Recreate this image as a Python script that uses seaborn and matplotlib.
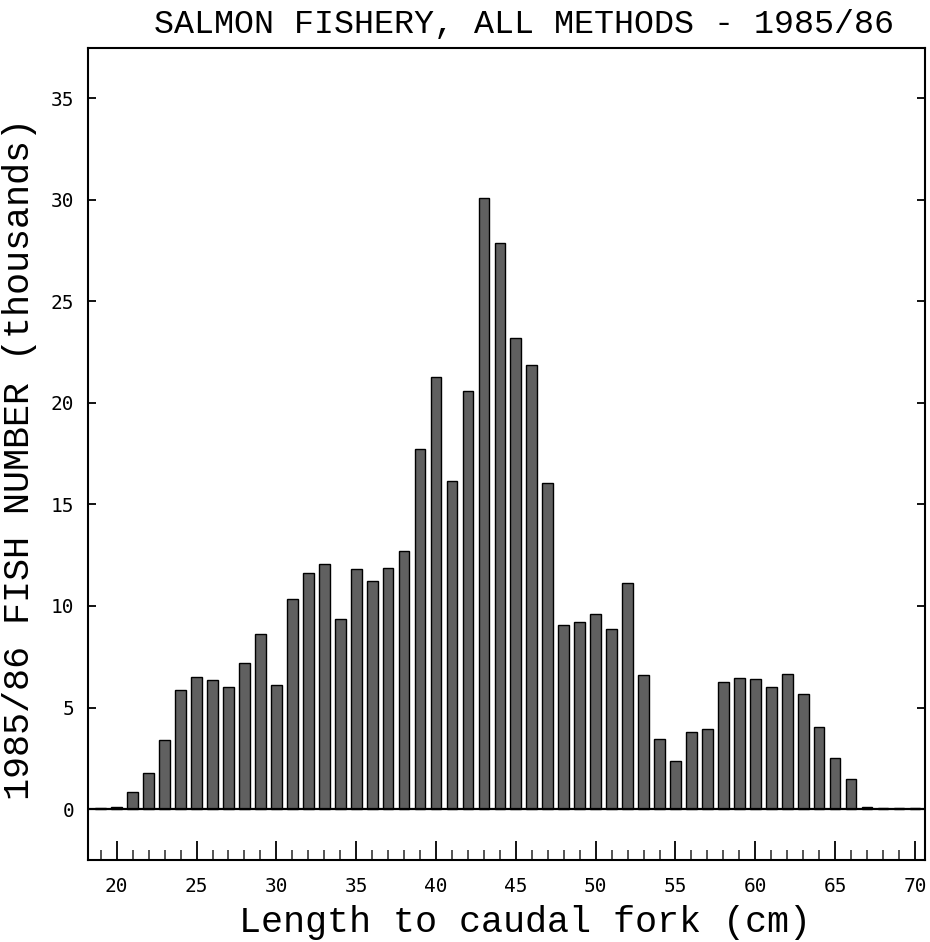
import numpy as np
import pandas as pd
import matplotlib
matplotlib.use("Agg")
import matplotlib.pyplot as plt
import seaborn as sns
from matplotlib.ticker import MultipleLocator

# ---- data (fish numbers in thousands by fork length, cm) ----
lengths = list(range(19, 71))
fish_thousands = [
    0.05, 0.10, 0.85, 1.76, 3.38, 5.85, 6.52, 6.35, 6.03, 7.20,   # 19-28
    8.64, 6.11, 10.36, 11.63, 12.06, 9.34, 11.83, 11.22, 11.86, 12.73,  # 29-38
    17.71, 21.30, 16.15, 20.60, 30.10, 27.90, 23.20, 21.85, 16.05, 9.05,  # 39-48
    9.20, 9.62, 8.85, 11.15, 6.60, 3.45, 2.35, 3.80, 3.95, 6.25,  # 49-58
    6.45, 6.42, 6.02, 6.65, 5.65, 4.05, 2.50, 1.50, 0.10, 0.03,  # 59-68
    0.03, 0.03,  # 69-70
]
title = "SALMON FISHERY, ALL METHODS - 1985/86"
xlabel = "Length to caudal fork (cm)"
ylabel = "1985/86 FISH NUMBER (thousands)"
yticks = [0, 5, 10, 15, 20, 25, 30, 35]
xticks = [20, 25, 30, 35, 40, 45, 50, 55, 60, 65, 70]

df = pd.DataFrame({"length": lengths, "fish": fish_thousands})

sns.set_theme(style="white")
plt.rcParams["font.family"] = ["Liberation Mono", "DejaVu Sans Mono"]
TICKFONT = ["DejaVu Sans Mono"]

fig = plt.figure(figsize=(9.3, 9.42), dpi=100)
ax = fig.add_axes([88 / 930, 1 - 860 / 942, (924.5 - 88) / 930, (860 - 48) / 942])

sns.barplot(data=df, x="length", y="fish", native_scale=True, width=0.67,
            color="#606060", edgecolor="black", linewidth=1.0,
            saturation=1, ax=ax, errorbar=None)
ax.axhline(0, color="black", lw=1.6, zorder=3)

ax.set_xlim(18.2, 70.6)
ax.set_ylim(-2.51, 37.48)

ax.set_yticks(yticks)
ax.set_yticklabels([str(v) for v in yticks], family=TICKFONT)
ax.xaxis.set_minor_locator(MultipleLocator(1))
ax.set_xticks(xticks)
ax.set_xticklabels([str(v) for v in xticks], family=TICKFONT)

ax.tick_params(axis="x", which="major", direction="in", length=14, width=1.3,
               bottom=True, top=False, labelsize=14, pad=12, colors="black")
ax.tick_params(axis="x", which="minor", direction="in", length=7, width=1.1,
               bottom=True, top=False)
ax.tick_params(axis="y", which="major", direction="in", length=6, width=1.3,
               left=True, right=True, labelsize=14, pad=10, colors="black")

for s in ax.spines.values():
    s.set_color("black")
    s.set_linewidth(1.5)

ax.set_xlabel("")
ax.set_ylabel("")

fig.text(524 / 930, 1 - 33 / 942, title, ha="center", va="baseline",
         fontsize=24, color="black")
fig.text(525 / 930, 1 - 932 / 942, xlabel, ha="center", va="baseline",
         fontsize=26.5, color="black")
fig.text(20 / 930, 1 - 459 / 942, ylabel, ha="center", va="center",
         rotation=90, fontsize=26.5, color="black")

fig.savefig("out.png", dpi=100)
